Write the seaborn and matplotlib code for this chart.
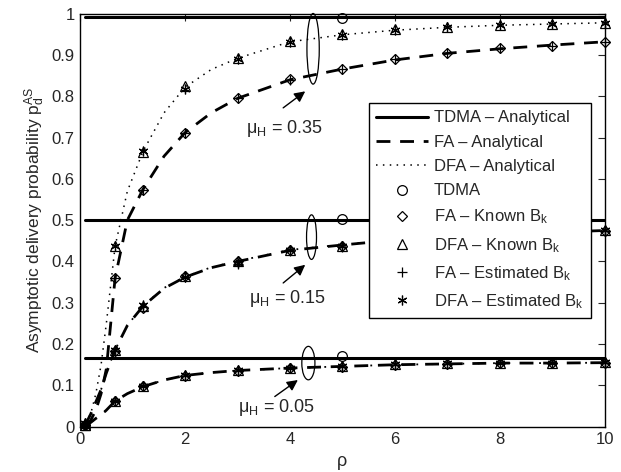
import numpy as np
import pandas as pd
import matplotlib
matplotlib.use("Agg")
import matplotlib.pyplot as plt
from matplotlib.lines import Line2D
from matplotlib.patches import Ellipse
import seaborn as sns

# --- data ---
rho_sim = [0.1, 0.667, 1.2, 2, 3, 4, 5, 6, 7, 8, 9, 10]
rho_ana = [0.1, 0.2, 0.3, 0.4, 0.5, 0.667, 0.9, 1.2, 1.6, 2, 2.5, 3, 4, 5, 6, 7, 8, 9, 10]

# mu_H = 0.35
fa_ana_35 = [0.005, 0.015, 0.04, 0.08, 0.14, 0.36, 0.50, 0.575, 0.655, 0.712, 0.76, 0.795,
             0.84, 0.866, 0.888, 0.904, 0.915, 0.924, 0.932]
dfa_ana_35 = [0.01, 0.03, 0.08, 0.15, 0.25, 0.437, 0.57, 0.667, 0.76, 0.822, 0.865, 0.892,
              0.932, 0.949, 0.96, 0.967, 0.972, 0.975, 0.978]
fa_sim_35 = [0.005, 0.36, 0.572, 0.712, 0.795, 0.841, 0.866, 0.89, 0.906, 0.917, 0.922, 0.932]
dfa_sim_35 = [0.01, 0.437, 0.665, 0.825, 0.892, 0.933, 0.95, 0.962, 0.967, 0.973, 0.976, 0.978]
fa_est_35 = [0.005, 0.36, 0.572, 0.71, 0.795, 0.84, 0.866, 0.89, 0.905, 0.916, 0.922, 0.932]
dfa_est_35 = [0.01, 0.437, 0.667, 0.817, 0.89, 0.931, 0.949, 0.961, 0.967, 0.972, 0.976, 0.977]

# mu_H = 0.15
fa_ana_15 = [0.005, 0.03, 0.06, 0.09, 0.13, 0.186, 0.245, 0.292, 0.335, 0.362, 0.385, 0.40,
             0.427, 0.44, 0.452, 0.46, 0.466, 0.471, 0.475]
dfa_ana_15 = [0.005, 0.03, 0.06, 0.09, 0.13, 0.186, 0.245, 0.293, 0.336, 0.363, 0.386, 0.401,
              0.428, 0.441, 0.453, 0.461, 0.467, 0.472, 0.476]
fa_sim_15 = [0.005, 0.184, 0.288, 0.364, 0.40, 0.427, 0.437, 0.452, 0.46, 0.466, 0.471, 0.475]
dfa_sim_15 = [0.005, 0.186, 0.292, 0.366, 0.401, 0.428, 0.438, 0.453, 0.461, 0.467, 0.472, 0.476]
fa_est_15 = [0.005, 0.184, 0.29, 0.362, 0.395, 0.426, 0.436, 0.452, 0.46, 0.466, 0.471, 0.475]
dfa_est_15 = [0.005, 0.186, 0.295, 0.363, 0.397, 0.427, 0.437, 0.453, 0.461, 0.467, 0.472, 0.476]

# mu_H = 0.05
fa_ana_05 = [0.003, 0.01, 0.02, 0.028, 0.04, 0.062, 0.08, 0.097, 0.113, 0.124, 0.131, 0.136,
             0.142, 0.146, 0.15, 0.152, 0.154, 0.154, 0.155]
fa_sim_05 = [0.003, 0.062, 0.098, 0.122, 0.136, 0.142, 0.145, 0.15, 0.152, 0.154, 0.154, 0.155]
dfa_sim_05 = [0.003, 0.063, 0.099, 0.124, 0.137, 0.143, 0.146, 0.151, 0.153, 0.155, 0.155, 0.156]

# TDMA
tdma_level = [0.993, 0.5, 0.167]
tdma_rho = [0.1, 10]
tdma_sim_rho = 5
tdma_sim = [0.99, 0.503, 0.17]

labels = ["0.35", "0.15", "0.05"]

# --- style ---
sns.set_style("white")
plt.rcParams["font.family"] = ["Liberation Sans", "DejaVu Sans"]
plt.rcParams["mathtext.fontset"] = "custom"
plt.rcParams["mathtext.rm"] = "Liberation Sans"
plt.rcParams["mathtext.it"] = "Liberation Sans:italic"
plt.rcParams["font.size"] = 12

fig = plt.figure(figsize=(6.21, 4.72), dpi=100)
ax = fig.add_axes([0.129, 0.096, 0.845, 0.875])

k = "black"
# analytical curves
for lvl in tdma_level:
    sns.lineplot(x=tdma_rho, y=[lvl, lvl], ax=ax, color=k, lw=2.2, linestyle="-")
sns.lineplot(x=rho_ana, y=fa_ana_35, ax=ax, color=k, lw=2, linestyle=(0, (5, 3.5)))
sns.lineplot(x=rho_ana, y=dfa_ana_35, ax=ax, color=k, lw=1.1, linestyle=(0, (1, 3.5)))
sns.lineplot(x=rho_ana, y=fa_ana_15, ax=ax, color=k, lw=2, linestyle=(0, (5, 3.5)))
sns.lineplot(x=rho_ana, y=dfa_ana_15, ax=ax, color=k, lw=1.3, linestyle=(4.2, (1, 7.5)))
sns.lineplot(x=rho_ana, y=fa_ana_05, ax=ax, color=k, lw=2, linestyle=(0, (5, 3.5)))
sns.lineplot(x=rho_ana, y=fa_ana_05, ax=ax, color=k, lw=1.3, linestyle=(4.2, (1, 7.5)))

# simulation markers
ms = 7
mk = dict(color=k, markerfacecolor="none", markeredgecolor=k, linestyle="none", markeredgewidth=0.9, clip_on=False)
for fa, dfa, fae, dfae in [(fa_sim_35, dfa_sim_35, fa_est_35, dfa_est_35),
                           (fa_sim_15, dfa_sim_15, fa_est_15, dfa_est_15),
                           (fa_sim_05, dfa_sim_05, fa_sim_05, dfa_sim_05)]:
    ax.plot(rho_sim, fa, marker="D", markersize=ms * 0.75, **mk)
    ax.plot(rho_sim, dfa, marker="^", markersize=ms, **mk)
    ax.plot(rho_sim, fae, marker="+", markersize=ms * 1.1, **mk)
    ax.plot(rho_sim, dfae, marker=(6, 2, 0), markersize=ms, **mk)
ax.plot([tdma_sim_rho] * 3, tdma_sim, marker="o", markersize=ms, **mk)

# ellipses, arrows and labels
ellipses = [((4.44, 0.915), 0.235, 0.171), ((4.41, 0.459), 0.19, 0.108), ((4.35, 0.154), 0.25, 0.081)]
for (c, w, h) in ellipses:
    ax.add_patch(Ellipse(c, w, h, fill=False, edgecolor=k, lw=0.9, clip_on=False))
arrows = [((3.87, 0.772), (4.29, 0.812)), ((3.87, 0.348), (4.29, 0.392)), ((3.71, 0.073), (4.15, 0.113))]
for tail, head in arrows:
    ax.annotate("", xy=head, xytext=tail,
                arrowprops=dict(arrowstyle="-|>", color=k, lw=1, mutation_scale=16, shrinkA=0, shrinkB=0))
text_pos = [(3.16, 0.711), (3.21, 0.299), (3.0, 0.036)]
for (tx, ty), lab in zip(text_pos, labels):
    ax.text(tx, ty, "μ$_\\mathrm{H}$ = " + lab, fontsize=13, ha="left", va="baseline")

# axes
ax.set_xlim(0, 10)
ax.set_ylim(0, 1)
ax.set_xticks([0, 2, 4, 6, 8, 10])
ax.set_yticks(np.round(np.arange(0, 1.01, 0.1), 1))
ax.set_yticklabels(["0", "0.1", "0.2", "0.3", "0.4", "0.5", "0.6", "0.7", "0.8", "0.9", "1"])
ax.tick_params(direction="in", top=True, right=True, length=5, width=0.8, labelsize=12, pad=4)
for s in ax.spines.values():
    s.set_color(k)
    s.set_linewidth(1)
ax.set_xlabel("ρ", fontsize=13, labelpad=4)
ax.set_ylabel(r"Asymptotic delivery probability $\mathrm{p}_\mathrm{d}^\mathrm{AS}$", fontsize=12.5, labelpad=3)

# legend
handles = [
    Line2D([], [], color=k, lw=2.2, linestyle="-"),
    Line2D([], [], color=k, lw=2, linestyle=(0, (5, 3.5))),
    Line2D([], [], color=k, lw=1.1, linestyle=(0, (1, 3.5))),
    Line2D([], [], marker="o", markersize=ms, **{**mk, "clip_on": True}),
    Line2D([], [], marker="D", markersize=ms * 0.75, **{**mk, "clip_on": True}),
    Line2D([], [], marker="^", markersize=ms, **{**mk, "clip_on": True}),
    Line2D([], [], marker="+", markersize=ms * 1.1, **{**mk, "clip_on": True}),
    Line2D([], [], marker=(6, 2, 0), markersize=ms, **{**mk, "clip_on": True}),
]
names = ["TDMA – Analytical", "FA – Analytical", "DFA – Analytical", "TDMA",
         r"FA – Known B$_\mathrm{k}$", r"DFA – Known B$_\mathrm{k}$",
         r"FA – Estimated B$_\mathrm{k}$", r"DFA – Estimated B$_\mathrm{k}$"]
leg = ax.legend(handles, names, loc="lower right", bbox_to_anchor=(0.973, 0.263),
                fontsize=12, frameon=True, fancybox=False, framealpha=1,
                edgecolor=k, handlelength=3.1, handletextpad=0.35, borderpad=0.45,
                labelspacing=0.56, borderaxespad=0)
leg.get_frame().set_linewidth(1)

plt.savefig("out.png", dpi=100)
